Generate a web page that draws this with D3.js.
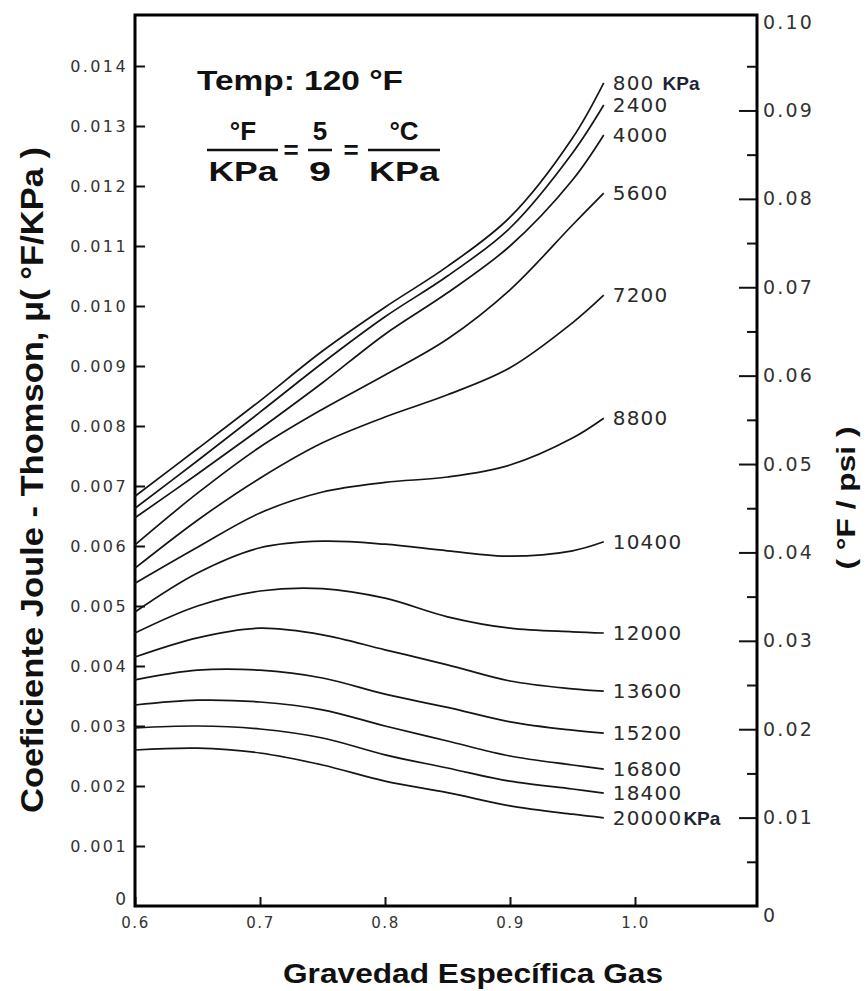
<!DOCTYPE html>
<html>
<head>
<meta charset="utf-8">
<script src="https://cdnjs.cloudflare.com/ajax/libs/d3/7.8.5/d3.min.js"></script>
<style>
body { margin: 0; background: #fff; }
svg { display: block; }
.axis text { font-family: 'DejaVu Sans', sans-serif; fill: #333; }
.axis line { stroke: #111; stroke-width: 2; }
.title { font-family: 'Liberation Sans', Arial, sans-serif; font-weight: bold; fill: #111; }
.clabel { font-family: 'DejaVu Sans', sans-serif; fill: #2a2a2a; font-size: 20px; letter-spacing: 1.2px; }
.curve { fill: none; stroke: #151515; stroke-width: 1.7; }
</style>
</head>
<body>
<svg id="chart" width="868" height="991"></svg>
<script>
// specific gravity where the curves were read
var gravity = [0.6, 0.65, 0.7, 0.75, 0.8, 0.85, 0.9, 0.95, 0.975];

// curve labels (pressure, KPa)
var pressures = [800, 2400, 4000, 5600, 7200, 8800, 10400, 12000, 13600, 15200, 16800, 18400, 20000];

// Joule-Thomson coefficient, °F/KPa
var mu800   = [0.00683, 0.00762, 0.00842, 0.00925, 0.00998, 0.01066, 0.01148, 0.01280, 0.01372];
var mu2400  = [0.00663, 0.00742, 0.00823, 0.00905, 0.00982, 0.01050, 0.01130, 0.01255, 0.01335];
var mu4000  = [0.00647, 0.00720, 0.00795, 0.00872, 0.00953, 0.01022, 0.01100, 0.01210, 0.01285];
var mu5600  = [0.00602, 0.00688, 0.00765, 0.00828, 0.00885, 0.00945, 0.01027, 0.01135, 0.01188];
var mu7200  = [0.00563, 0.00643, 0.00713, 0.00772, 0.00815, 0.00852, 0.00897, 0.00972, 0.01018];
var mu8800  = [0.00538, 0.00598, 0.00655, 0.00690, 0.00706, 0.00715, 0.00735, 0.00780, 0.00813];
var mu10400 = [0.00490, 0.00555, 0.00597, 0.00608, 0.00603, 0.00592, 0.00583, 0.00592, 0.00607];
var mu12000 = [0.00455, 0.00500, 0.00525, 0.00529, 0.00513, 0.00482, 0.00463, 0.00457, 0.00455];
var mu13600 = [0.00415, 0.00447, 0.00463, 0.00452, 0.00427, 0.00402, 0.00375, 0.00362, 0.00358];
var mu15200 = [0.00377, 0.00393, 0.00393, 0.00380, 0.00353, 0.00331, 0.00307, 0.00293, 0.00288];
var mu16800 = [0.00335, 0.00343, 0.00340, 0.00327, 0.00300, 0.00275, 0.00250, 0.00235, 0.00228];
var mu18400 = [0.00297, 0.00300, 0.00295, 0.00280, 0.00252, 0.00230, 0.00208, 0.00195, 0.00188];
var mu20000 = [0.00260, 0.00263, 0.00255, 0.00235, 0.00208, 0.00189, 0.00167, 0.00153, 0.00147];

var series = [mu800, mu2400, mu4000, mu5600, mu7200, mu8800, mu10400,
              mu12000, mu13600, mu15200, mu16800, mu18400, mu20000];

// tick labels
var xTicks = [0.6, 0.7, 0.8, 0.9, 1.0];
var yTicks = [0.001, 0.002, 0.003, 0.004, 0.005, 0.006, 0.007, 0.008, 0.009, 0.010, 0.011, 0.012, 0.013, 0.014];
var psiTicks = [0, 0.01, 0.02, 0.03, 0.04, 0.05, 0.06, 0.07, 0.08, 0.09, 0.10];
var psiMinor = [0.005, 0.015, 0.025, 0.035, 0.045, 0.055, 0.065, 0.075, 0.085, 0.095];

// plot box
var box = { left: 135, top: 15, right: 757, bottom: 906 };

var svg = d3.select('#chart');

var xScale = d3.scaleLinear().domain([0.6, 1.0976]).range([box.left, box.right]);
var yScale = d3.scaleLinear().domain([0, 0.01485]).range([box.bottom, box.top]);
var yPsi = d3.scaleLinear().domain([0, 0.1008]).range([box.bottom, box.top]);

//left axis, ticks pointing inside
var yAxis = d3.axisLeft(yScale)
    .tickValues(yTicks)
    .tickSize(-10)
    .tickPadding(7)
    .tickFormat(d3.format('.3f'));

var gy = svg.append('g')
    .attr('class', 'axis')
    .attr('transform', 'translate(' + box.left + ',0)')
    .call(yAxis);
gy.select('.domain').remove();
gy.selectAll('text').style('font-size', '16px').style('letter-spacing', '2.4px');

// bottom axis
var xAxis = d3.axisBottom(xScale)
    .tickValues(xTicks)
    .tickSize(-9)
    .tickPadding(11)
    .tickFormat(d3.format('.1f'));

var gx = svg.append('g')
    .attr('class', 'axis')
    .attr('transform', 'translate(0,' + box.bottom + ')')
    .call(xAxis);
gx.select('.domain').remove();
gx.selectAll('text').style('font-size', '15px').style('letter-spacing', '1.5px');

// right axis in °F/psi
var rAxis = d3.axisRight(yPsi)
    .tickValues(psiTicks)
    .tickSize(-18)
    .tickPadding(6)
    .tickFormat(function (d) { return d === 0 ? '0' : d3.format('.2f')(d); });

var gr = svg.append('g')
    .attr('class', 'axis')
    .attr('transform', 'translate(' + box.right + ',0)')
    .call(rAxis);
gr.select('.domain').remove();
gr.selectAll('text').style('font-size', '19px').style('letter-spacing', '2.2px');
gr.selectAll('.tick').filter(function (d) { return d === 0 || d === 0.10; })
    .select('line').remove();
gr.selectAll('.tick').filter(function (d) { return d === 0; })
    .select('text').attr('dy', '0.8em');

var gm = svg.append('g')
    .attr('class', 'axis')
    .attr('transform', 'translate(' + box.right + ',0)')
    .call(d3.axisRight(yPsi).tickValues(psiMinor).tickSize(-10).tickFormat(''));
gm.select('.domain').remove();

// zero of the left axis
svg.append('text')
    .attr('x', box.left - 9)
    .attr('y', yScale(0) - 1)
    .attr('text-anchor', 'end')
    .style('font-family', 'DejaVu Sans, sans-serif')
    .style('font-size', '17px')
    .style('fill', '#333')
    .text('0');

// frame
svg.append('rect')
    .attr('x', box.left)
    .attr('y', box.top)
    .attr('width', box.right - box.left)
    .attr('height', box.bottom - box.top)
    .attr('fill', 'none')
    .attr('stroke', '#000')
    .attr('stroke-width', 3);

// curves
var line = d3.line()
    .x(function (d, i) { return xScale(gravity[i]); })
    .y(function (d) { return yScale(d); })
    .curve(d3.curveCatmullRom.alpha(0.5));

svg.selectAll('.curve')
    .data(series)
    .enter()
    .append('path')
    .attr('class', 'curve')
    .attr('d', line);

// curve labels at the right end
var labels = svg.selectAll('.clabel')
    .data(series)
    .enter()
    .append('text')
    .attr('class', 'clabel')
    .attr('x', xScale(gravity[gravity.length - 1]) + 9)
    .attr('y', function (d) { return yScale(d[d.length - 1]) + 7; });

labels.append('tspan')
    .text(function (d, i) { return pressures[i]; });
labels.filter(function (d, i) { return i === 0 || i === pressures.length - 1; })
    .append('tspan')
    .attr('dx', function (d, i) { return i === 0 ? 8 : 1; })
    .style('font-family', 'Liberation Sans, Arial, sans-serif')
    .style('font-weight', 'bold')
    .style('font-size', '19px')
    .style('letter-spacing', '0px')
    .style('fill', '#1c2433')
    .text('KPa');

// axis titles
svg.append('text')
    .attr('class', 'title')
    .attr('x', 473)
    .attr('y', 983)
    .attr('text-anchor', 'middle')
    .attr('textLength', 380)
    .attr('lengthAdjust', 'spacingAndGlyphs')
    .style('font-size', '28px')
    .text('Gravedad Específica Gas');

svg.append('text')
    .attr('class', 'title')
    .attr('transform', 'translate(43,480) rotate(-90)')
    .attr('text-anchor', 'middle')
    .attr('textLength', 666)
    .attr('lengthAdjust', 'spacingAndGlyphs')
    .style('font-size', '31px')
    .text('Coeficiente Joule - Thomson,  μ( °F/KPa )');

svg.append('text')
    .attr('class', 'title')
    .attr('transform', 'translate(855,498) rotate(-90)')
    .attr('text-anchor', 'middle')
    .attr('textLength', 143)
    .attr('lengthAdjust', 'spacingAndGlyphs')
    .style('font-size', '26px')
    .text('( °F / psi )');

// annotation
svg.append('text')
    .attr('class', 'title')
    .attr('x', 197)
    .attr('y', 90)
    .attr('textLength', 206)
    .attr('lengthAdjust', 'spacingAndGlyphs')
    .style('font-size', '28px')
    .text('Temp: 120 °F');

function fraction(cx, x0, x1, num, den) {
    svg.append('text').attr('class', 'title')
        .attr('x', cx).attr('y', 140).attr('text-anchor', 'middle')
        .style('font-size', '26px').text(num);
    svg.append('line')
        .attr('x1', x0).attr('x2', x1).attr('y1', 150).attr('y2', 150)
        .attr('stroke', '#111').attr('stroke-width', 2.5);
    svg.append('text').attr('class', 'title')
        .attr('x', cx).attr('y', 181).attr('text-anchor', 'middle')
        .attr('textLength', x1 - x0 - 2)
        .attr('lengthAdjust', 'spacingAndGlyphs')
        .style('font-size', '27px').text(den);
}
fraction(243, 207, 278, '°F', 'KPa');
fraction(320, 308, 332, '5', '9');
fraction(404, 368, 440, '°C', 'KPa');

[291, 351].forEach(function (cx) {
    svg.append('text').attr('class', 'title')
        .attr('x', cx).attr('y', 159).attr('text-anchor', 'middle')
        .style('font-size', '26px').text('=');
});
</script>
</body>
</html>
